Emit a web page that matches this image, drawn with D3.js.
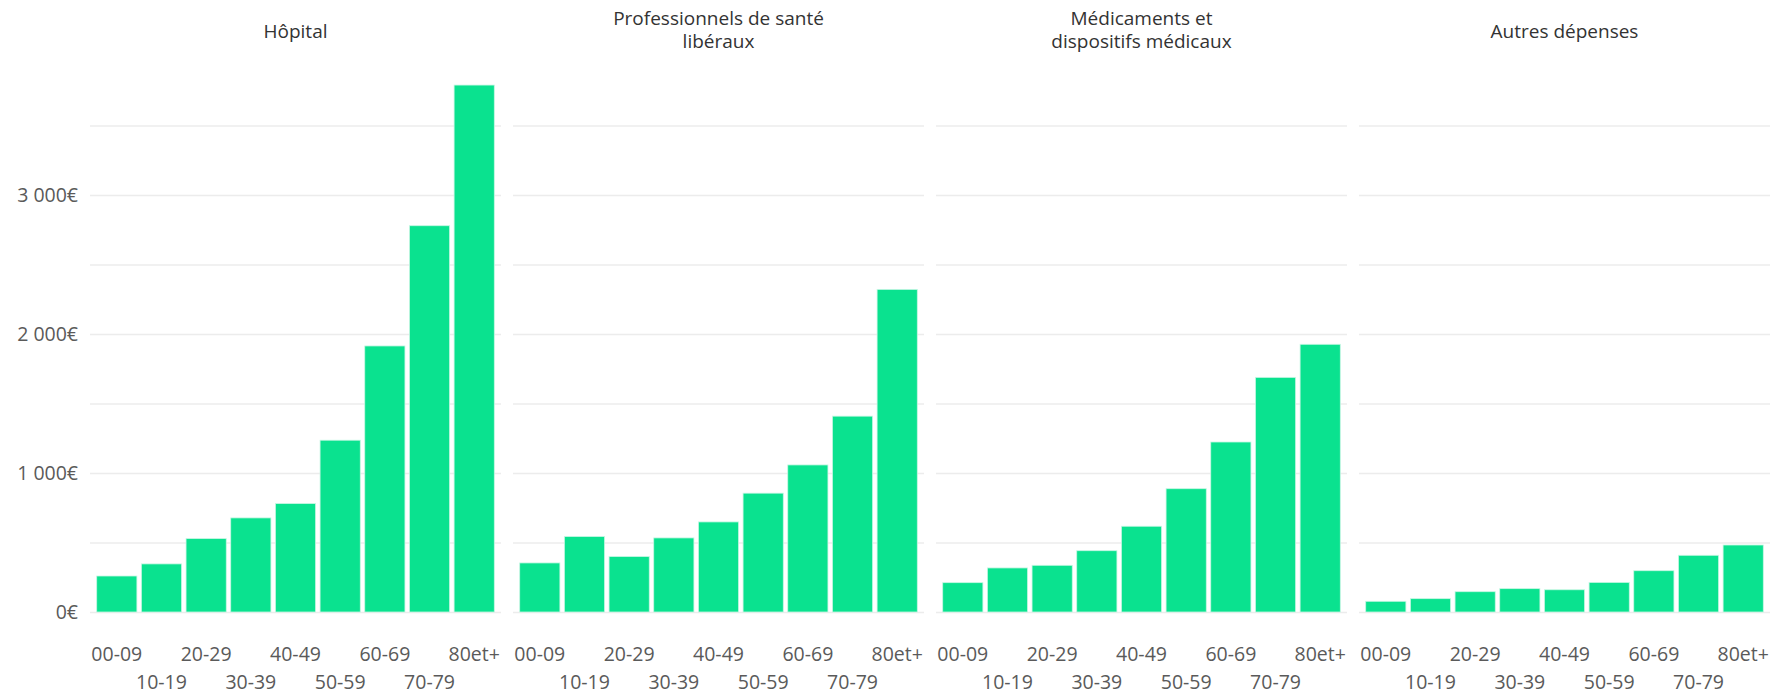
<!DOCTYPE html>
<html>
<head>
<meta charset="utf-8">
<script src="https://cdn.jsdelivr.net/npm/d3@7"></script>
<style>
  html, body { margin: 0; padding: 0; background: #ffffff; }
  svg { display: block; }
  text { font-family: "Open Sans", "DejaVu Sans", sans-serif; }
</style>
</head>
<body>
<svg id="chart" width="1771" height="695"></svg>
<script>
// ---- Data ----
const ageGroups = ["00-09", "10-19", "20-29", "30-39", "40-49", "50-59", "60-69", "70-79", "80et+"];
const panelTitles = [
  ["Hôpital"],
  ["Professionnels de santé", "libéraux"],
  ["Médicaments et", "dispositifs médicaux"],
  ["Autres dépenses"]
];
const hopital      = [259, 346, 528, 677, 780, 1236, 1914, 2779, 3791];
const liberaux     = [353, 543, 399, 533, 648, 855, 1058, 1409, 2321];
const medicaments  = [211, 317, 336, 441, 617, 887, 1223, 1688, 1926];
const autres       = [77, 96, 146, 168, 160, 213, 297, 408, 482];
const seriesList = [hopital, liberaux, medicaments, autres];
const yTickValues = [0, 1000, 2000, 3000];
const gridValues = [0, 500, 1000, 1500, 2000, 2500, 3000, 3500];

// ---- Layout ----
const svg = d3.select("#chart");
const panelLeft = 90, panelWidth = 411, panelGap = 12;
const baseY = 612;
const y = d3.scaleLinear().domain([0, 4000]).range([baseY, baseY - 4000 * 0.139]);
const fmtLocale = d3.formatLocale({decimal: ",", thousands: " ", grouping: [3], currency: ["", "€"]});
const fmt = v => fmtLocale.format(",.0f")(v) + "€";

const green = "#0ae28f";
const labelColor = "#5a5a5a";
const fontSize = 19.5;

seriesList.forEach((vals, p) => {
  const x0 = panelLeft + p * (panelWidth + panelGap);
  const g = svg.append("g").attr("transform", `translate(${x0},0)`);
  const x = d3.scaleBand().domain(ageGroups).range([0, panelWidth]).paddingInner(0.1).paddingOuter(0.15);

  // gridlines
  const grid = g.append("g").call(
    d3.axisLeft(y).tickValues(gridValues).tickSize(-panelWidth).tickFormat("")
  );
  grid.select(".domain").remove();
  grid.selectAll("line").attr("stroke", "#ececec").attr("stroke-width", 1.6);

  // bars
  g.selectAll("rect.bar").data(vals).join("rect")
    .attr("class", "bar")
    .attr("x", (d, i) => x(ageGroups[i]))
    .attr("width", x.bandwidth())
    .attr("y", d => y(d))
    .attr("height", d => y(0) - y(d))
    .attr("fill", green)
    .attr("stroke", "#c8f7e4")
    .attr("stroke-width", 0.8);

  // x axis
  const xa = g.append("g").attr("transform", `translate(0,${baseY})`)
    .call(d3.axisBottom(x).tickSize(0));
  xa.select(".domain").remove();
  xa.selectAll("text")
    .attr("font-size", fontSize)
    .attr("fill", labelColor)
    .attr("font-family", "'Open Sans', sans-serif")
    .attr("dy", 0)
    .attr("y", (d, i) => i % 2 === 0 ? 49 : 77);

  // title (one text element per line)
  const lines = panelTitles[p];
  const tops = lines.length === 1 ? [38] : [25, 48];
  lines.forEach((l, i) => {
    g.append("text")
      .attr("x", panelWidth / 2)
      .attr("y", tops[i])
      .attr("text-anchor", "middle")
      .attr("font-size", 19)
      .attr("fill", "#333333")
      .text(l);
  });

  // y axis labels (first panel only)
  if (p === 0) {
    const ya = g.append("g").call(d3.axisLeft(y).tickValues(yTickValues).tickSize(0).tickPadding(12).tickFormat(fmt));
    ya.select(".domain").remove();
    ya.selectAll("text")
      .attr("font-size", fontSize)
      .attr("fill", labelColor)
      .attr("font-family", "'Open Sans', sans-serif");
  }
});
</script>
</body>
</html>
